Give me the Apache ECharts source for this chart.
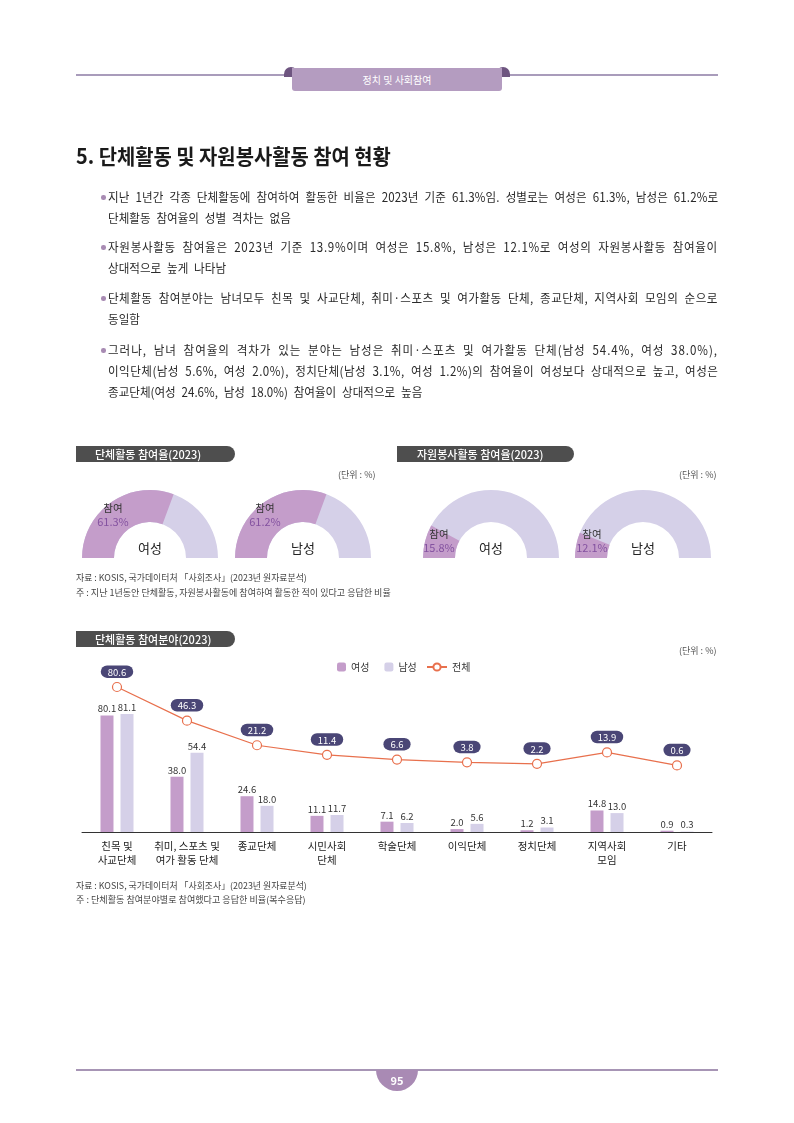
<!DOCTYPE html>
<html><head><meta charset="utf-8">
<script src="https://cdn.jsdelivr.net/npm/echarts@6/dist/echarts.min.js"></script>
<style>
body{margin:0;background:#fff;font-family:"Noto Sans CJK KR","Noto Sans",sans-serif;color:#222;}
#page{position:relative;width:794px;height:1123px;overflow:hidden;background:#fff;}
#chart{position:absolute;left:0;top:0;width:794px;height:1123px;}
.abs{position:absolute;white-space:nowrap;}
.line{position:absolute;left:108px;width:610px;height:20px;line-height:20px;font-size:12.5px;color:#2a2a2a;white-space:nowrap;}
.line span{display:inline-block;transform-origin:left center;}
.bul{position:absolute;left:101px;width:4.5px;height:4.5px;border-radius:50%;background:#a88bb3;}
.hdr{position:absolute;height:16px;line-height:16px;background:#4e4e4e;border-radius:0 8px 8px 0;color:#fff;font-size:11px;font-weight:500;}
.unit{position:absolute;font-size:9px;color:#555;white-space:nowrap;}
.src{position:absolute;left:76px;font-size:9px;color:#444;white-space:nowrap;line-height:12px;}
.src span{display:inline-block;transform-origin:left center;}
</style></head>
<body>
<div id="page">
<div id="chart"></div>

<!-- top header -->
<div class="abs" style="left:76px;top:74px;width:642px;height:2px;background:#a99cbb;"></div>
<div class="abs" style="left:284px;top:67px;width:14px;height:10px;background:#6e5580;border-radius:7px 7px 0 0;"></div>
<div class="abs" style="left:496px;top:67px;width:14px;height:10px;background:#6e5580;border-radius:7px 7px 0 0;"></div>
<div class="abs" style="left:292px;top:68px;width:210px;height:23px;background:#b49cc0;border-radius:0 0 3px 3px;color:#fff;font-size:10px;text-align:center;line-height:24px;">정치 및 사회참여</div>

<!-- title -->
<div class="abs fit" data-w="315" style="left:76px;top:142px;font-size:21px;font-weight:700;color:#1a1a1a;line-height:26px;"><span style="display:inline-block;transform-origin:left center;">5. 단체활동 및 자원봉사활동 참여 현황</span></div>

<!-- bullets -->
<div class="bul" style="top:195px;"></div>
<div class="line j" style="top:187px;"><span>지난 1년간 각종 단체활동에 참여하여 활동한 비율은 2023년 기준 61.3%임. 성별로는 여성은 61.3%, 남성은 61.2%로</span></div>
<div class="line" style="top:208px;"><span>단체활동 참여율의 성별 격차는 없음</span></div>

<div class="bul" style="top:245px;"></div>
<div class="line j" style="top:237px;"><span>자원봉사활동 참여율은 2023년 기준 13.9%이며 여성은 15.8%, 남성은 12.1%로 여성의 자원봉사활동 참여율이</span></div>
<div class="line" style="top:258px;"><span>상대적으로 높게 나타남</span></div>

<div class="bul" style="top:296px;"></div>
<div class="line j" style="top:288px;"><span>단체활동 참여분야는 남녀모두 친목 및 사교단체, 취미·스포츠 및 여가활동 단체, 종교단체, 지역사회 모임의 순으로</span></div>
<div class="line" style="top:309px;"><span>동일함</span></div>

<div class="bul" style="top:348px;"></div>
<div class="line j" style="top:340px;"><span>그러나, 남녀 참여율의 격차가 있는 분야는 남성은 취미·스포츠 및 여가활동 단체(남성 54.4%, 여성 38.0%),</span></div>
<div class="line j" style="top:361px;"><span>이익단체(남성 5.6%, 여성 2.0%), 정치단체(남성 3.1%, 여성 1.2%)의 참여율이 여성보다 상대적으로 높고, 여성은</span></div>
<div class="line" style="top:382px;"><span>종교단체(여성 24.6%, 남성 18.0%) 참여율이 상대적으로 높음</span></div>

<!-- section headers -->
<div class="hdr" style="left:76px;top:446px;width:159px;"><span style="margin-left:19px;">단체활동 참여율(2023)</span></div>
<div class="hdr" style="left:397px;top:446px;width:177px;"><span style="margin-left:20px;">자원봉사활동 참여율(2023)</span></div>
<div class="hdr" style="left:76px;top:631px;width:159px;"><span style="margin-left:19px;">단체활동 참여분야(2023)</span></div>

<div class="unit" style="left:338px;top:468px;">(단위 : %)</div>
<div class="unit" style="left:679px;top:468px;">(단위 : %)</div>
<div class="unit" style="left:679px;top:644px;">(단위 : %)</div>

<div class="src fit" data-w="231" style="top:572px;"><span>자료 : KOSIS, 국가데이터처 「사회조사」(2023년 원자료분석)</span></div>
<div class="src fit" data-w="315" style="top:587px;"><span>주 : 지난 1년동안 단체활동, 자원봉사활동에 참여하여 활동한 적이 있다고 응답한 비율</span></div>
<div class="src fit" data-w="231" style="top:880px;"><span>자료 : KOSIS, 국가데이터처 「사회조사」(2023년 원자료분석)</span></div>
<div class="src fit" data-w="230" style="top:894px;"><span>주 : 단체활동 참여분야별로 참여했다고 응답한 비율(복수응답)</span></div>

<!-- footer -->
<div class="abs" style="left:76px;top:1069px;width:642px;height:1.5px;background:#a795b5;"></div>
<div class="abs" style="left:376px;top:1070px;width:42px;height:21px;background:#a98ab4;border-radius:0 0 21px 21px;color:#fff;font-size:11px;font-weight:700;text-align:center;line-height:20px;">95</div>
</div>

<script>
// ---------- data ----------
const genders = ['여성', '남성'];
const groupRate = [61.3, 61.2];       // 단체활동 참여율
const volunteerRate = [15.8, 12.1];   // 자원봉사활동 참여율

const categories = ['친목 및\n사교단체', '취미, 스포츠 및\n여가 활동 단체', '종교단체', '시민사회\n단체', '학술단체', '이익단체', '정치단체', '지역사회\n모임', '기타'];
const femaleValues = [80.1, 38.0, 24.6, 11.1, 7.1, 2.0, 1.2, 14.8, 0.9];
const maleValues   = [81.1, 54.4, 18.0, 11.7, 6.2, 5.6, 3.1, 13.0, 0.3];
const totalValues  = [80.6, 46.3, 21.2, 11.4, 6.6, 3.8, 2.2, 13.9, 0.6];

// ---------- text fitting ----------
const S = 0.925, WS = 3.5;
document.querySelectorAll('.line').forEach(el => {
  const sp = el.firstElementChild;
  const nat = sp.offsetWidth;
  const txt = sp.textContent;
  const spaces = (txt.match(/ /g) || []).length;
  sp.style.wordSpacing = WS + 'px';
  if (el.classList.contains('j')) {
    const extra = 610 / S - nat - spaces * WS;
    sp.style.letterSpacing = (extra / txt.length) + 'px';
  }
  sp.style.transform = 'scaleX(' + S + ')';
});
document.querySelectorAll('.fit').forEach(el => {
  const sp = el.firstElementChild;
  sp.style.display = 'inline-block';
  sp.style.transformOrigin = 'left center';
  const w = +el.dataset.w;
  sp.style.transform = 'scaleX(' + (w / sp.offsetWidth) + ')';
});

// ---------- chart ----------
const FONT = '"Noto Sans CJK KR", "Noto Sans", sans-serif';
const MAUVE = '#c49dca';
const LAVENDER = '#d5d0e8';
const ORANGE = '#e8704d';

const gaugeBase = {
  type: 'gauge', radius: 68, startAngle: 180, endAngle: 0, min: 0, max: 100,
  pointer: { show: false }, anchor: { show: false },
  axisTick: { show: false }, splitLine: { show: false }, axisLabel: { show: false }
};

function gaugeRing(cx, value, name) {
  return Object.assign({}, gaugeBase, {
    center: [cx, 558], z: 2,
    axisLine: { lineStyle: { width: 32, color: [[1, LAVENDER]] } },
    progress: { show: true, width: 32, itemStyle: { color: MAUVE } },
    title: { show: false }, detail: { show: false },
    data: [{ value: value, name: name }]
  });
}
function gaugeText(cx, value, name, detailOffset) {
  return Object.assign({}, gaugeBase, {
    center: [cx, 558], z: 10,
    axisLine: { show: false }, progress: { show: false },
    title: { show: true, offsetCenter: [0, -10], fontSize: 13, color: '#222', fontFamily: FONT },
    detail: {
      show: true, offsetCenter: detailOffset, fontFamily: FONT, fontWeight: 'normal',
      formatter: v => '{a|참여}\n{b|' + v.toFixed(1) + '%}',
      rich: {
        a: { fontSize: 10.5, color: '#333', lineHeight: 13, fontFamily: FONT, fontWeight: 'normal' },
        b: { fontSize: 11, color: '#8452a0', lineHeight: 14, fontFamily: FONT, fontWeight: 'normal' }
      }
    },
    data: [{ value: value, name: name }]
  });
}

const chart = echarts.init(document.getElementById('chart'), null, { renderer: 'canvas' });
chart.setOption({
  animation: false,
  textStyle: { fontFamily: FONT },
  legend: [
    { top: 657, left: 332, itemWidth: 9, itemHeight: 9, itemGap: 15, data: ['여성', '남성'],
      textStyle: { fontSize: 10, color: '#333', fontFamily: FONT } },
    { top: 657, left: 421, itemWidth: 20, itemHeight: 9, data: ['전체'],
      textStyle: { fontSize: 10, color: '#333', fontFamily: FONT } }
  ],
  grid: { left: 82, right: 82, top: 672, bottom: 291 },
  xAxis: {
    type: 'category', data: categories,
    axisLine: { lineStyle: { color: '#333', width: 1 } },
    axisTick: { show: false },
    axisLabel: { fontSize: 10.5, color: '#222', lineHeight: 14, margin: 7, interval: 0, fontFamily: FONT }
  },
  yAxis: [
    { type: 'value', min: 0, max: 110, show: false, splitLine: { show: false } },
    { type: 'value', min: -67.3, max: 95.9, show: false, splitLine: { show: false } }
  ],
  series: [
    gaugeRing(150, groupRate[0], genders[0]),
    gaugeRing(303, groupRate[1], genders[1]),
    gaugeRing(491, volunteerRate[0], genders[0]),
    gaugeRing(643, volunteerRate[1], genders[1]),
    gaugeText(150, groupRate[0], genders[0], [-37, -43]),
    gaugeText(303, groupRate[1], genders[1], [-38, -43]),
    gaugeText(491, volunteerRate[0], genders[0], [-52, -17]),
    gaugeText(643, volunteerRate[1], genders[1], [-51, -17]),
    {
      name: '여성', type: 'bar', data: femaleValues, barWidth: 13, barGap: '54%',
      itemStyle: { color: MAUVE },
      label: { show: true, position: 'top', distance: 2, fontSize: 9.5, color: '#333',
        formatter: p => p.value.toFixed(1) }
    },
    {
      name: '남성', type: 'bar', data: maleValues, barWidth: 13,
      itemStyle: { color: LAVENDER },
      label: { show: true, position: 'top', distance: 2, fontSize: 9.5, color: '#333',
        formatter: p => p.value.toFixed(1) }
    },
    {
      name: '전체', type: 'line', yAxisIndex: 1, data: totalValues,
      lineStyle: { color: ORANGE, width: 1.2 },
      itemStyle: { color: '#fff', borderColor: ORANGE, borderWidth: 1.2 },
      symbol: 'circle', symbolSize: 9,
      label: { show: true, position: 'top', distance: 4, fontSize: 9.5, color: '#fff',
        backgroundColor: '#4a4676', borderRadius: 7, padding: [2, 7, 1, 7],
        formatter: p => p.value.toFixed(1) },
      z: 5
    }
  ]
});
</script>
</body></html>
